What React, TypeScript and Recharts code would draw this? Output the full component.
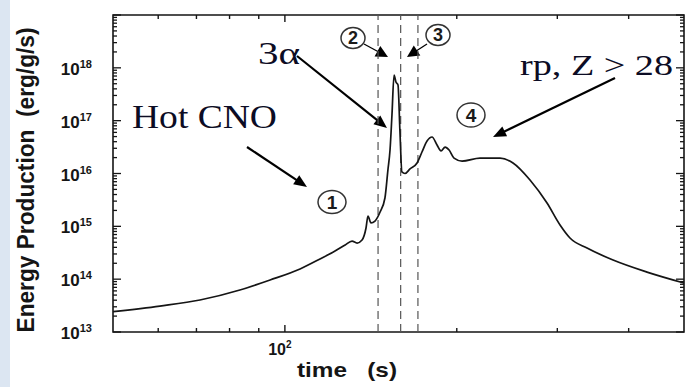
import React from 'react';
import {
  LineChart,
  Line,
  XAxis,
  YAxis,
  ReferenceLine,
  ReferenceArea,
  Customized,
} from 'recharts';

// ---- data ----
const times: number[] = [
  50, 60.4, 71, 83.4, 94.2, 106.3, 115.2, 122.4, 127.5, 131.1, 133.8, 136.5, 138.7,
  139.8, 141.5, 143.8, 146.8, 149.7, 151.5, 152.8, 154.0, 155.3, 156.5, 157.8, 159.0,
  160.3, 162.3, 165.6, 170.4, 173.8, 177.4, 181.0, 184.7, 187.7, 190.8, 193.9, 197.8,
  204.3, 219.6, 238.1, 250.9, 268.7, 287.8, 303.3, 315.7, 338.2, 375.6, 430.7, 500,
];
const energy: number[] = [
  2.42e13, 3.1e13, 4.03e13, 6.24e13, 9.64e13, 1.56e14, 2.41e14, 3.41e14, 4.43e14,
  5.27e14, 4.83e14, 5.51e14, 9.29e14, 1.57e15, 1.16e15, 1.26e15, 1.87e15, 3.44e15,
  1.16e16, 2.78e16, 1.28e17, 7.31e17, 5.39e17, 4.73e17, 6.65e16, 1.07e16, 1.0e16,
  1.22e16, 1.58e16, 2.55e16, 4.12e16, 4.91e16, 3.46e16, 2.67e16, 3.17e16, 2.78e16,
  1.96e16, 1.72e16, 1.96e16, 1.96e16, 1.58e16, 7.53e15, 2.76e15, 1.06e15, 6.01e14,
  3.89e14, 2.3e14, 1.36e14, 8.45e13,
];
const phaseBoundaries: number[] = [145.6, 159.5, 171];
const xTicks: number[] = [60, 70, 80, 90, 100, 200, 300, 400];
const xLabelTicks: number[] = [100];
const yDecades: number[] = [13, 14, 15, 16, 17, 18];
const yLabelExps: number[] = [13, 14, 15, 16, 17, 18];

const yTicks: number[] = [];
yDecades.forEach((e) => {
  for (let k = 1; k <= 9; k++) yTicks.push(k * Math.pow(10, e));
});
yTicks.push(1e19);

const data = times.map((t, i) => ({ t, e: energy[i] }));

// ---- layout ----
const W = 685;
const H = 387;
const PLOT = { left: 113, right: 684, top: 15, bottom: 332 };
const INK = '#151515';
const SANS = '"Liberation Sans", Arial, Helvetica, sans-serif';
const SERIF = '"Liberation Serif", "Times New Roman", serif';
const TXT = '#0c0c24';

const isPow10 = (v: number) => {
  const l = Math.log10(v);
  return Math.abs(l - Math.round(l)) < 1e-9;
};

const XTick = (props: any) => {
  const { x, payload } = props;
  const v = payload.value as number;
  const major = isPow10(v);
  const len = major ? 7 : 4;
  const showLabel = xLabelTicks.includes(v);
  const exp = Math.round(Math.log10(v));
  return (
    <g>
      <line x1={x} x2={x} y1={PLOT.bottom} y2={PLOT.bottom - len} stroke={INK} strokeWidth={1.4} />
      <line x1={x} x2={x} y1={PLOT.top} y2={PLOT.top + len} stroke={INK} strokeWidth={1.4} />
      {showLabel && (
        <text x={x - 5} y={355} textAnchor="middle" fontFamily={SANS} fontWeight="bold" fontSize={16} fill={INK}>
          10
          <tspan fontSize={10} dy={-7}>
            {exp}
          </tspan>
        </text>
      )}
    </g>
  );
};

const YTick = (props: any) => {
  const { y, payload } = props;
  const v = payload.value as number;
  const major = isPow10(v);
  const len = major ? 8 : 4;
  const exp = Math.round(Math.log10(v));
  const showLabel = major && yLabelExps.includes(exp);
  return (
    <g>
      <line x1={PLOT.left} x2={PLOT.left + len} y1={y} y2={y} stroke={INK} strokeWidth={1.3} />
      <line x1={PLOT.right} x2={PLOT.right - len} y1={y} y2={y} stroke={INK} strokeWidth={1.3} />
      {showLabel && (
        <text x={PLOT.left - 21} y={y + 7} textAnchor="end" fontFamily={SANS} fontWeight="bold" fontSize={17} fill={INK}>
          10
          <tspan fontSize={11} dy={-7}>
            {exp}
          </tspan>
        </text>
      )}
    </g>
  );
};

const Arrow = ({ x1, y1, x2, y2, head = 13, w = 5.5, sw = 2.2 }: any) => {
  const dx = x2 - x1;
  const dy = y2 - y1;
  const L = Math.hypot(dx, dy);
  const ux = dx / L;
  const uy = dy / L;
  const bx = x2 - ux * head;
  const by = y2 - uy * head;
  const px = -uy;
  const py = ux;
  return (
    <g>
      <line x1={x1} y1={y1} x2={bx + ux * 2} y2={by + uy * 2} stroke="#000" strokeWidth={sw} />
      <polygon
        points={`${x2},${y2} ${bx + px * w},${by + py * w} ${bx - px * w},${by - py * w}`}
        fill="#000"
      />
    </g>
  );
};

const Circled = ({ cx, cy, rx, ry, n, fs = 18 }: any) => (
  <g>
    <ellipse cx={cx} cy={cy} rx={rx} ry={ry} fill="none" stroke="#333" strokeWidth={1.5} />
    <text x={cx} y={cy + fs * 0.36} textAnchor="middle" fontFamily={SANS} fontWeight="bold" fontSize={fs} fill="#1a1a1a">
      {n}
    </text>
  </g>
);

const Annotations = () => (
  <g>
    <text
      transform={`translate(34,180) scale(1.25,1) rotate(-90)`}
      textAnchor="middle"
      fontFamily={SANS}
      fontWeight="bold"
      fontSize={19}
      fill={INK}
      textLength={305}
      lengthAdjust="spacingAndGlyphs"
      style={{ whiteSpace: 'pre' }}
    >
      {'Energy Production  (erg/g/s)'}
    </text>
    <text
      x={297}
      y={377}
      fontFamily={SANS}
      fontWeight="bold"
      fontSize={21}
      fill={INK}
      textLength={100}
      lengthAdjust="spacingAndGlyphs"
      style={{ whiteSpace: 'pre' }}
    >
      {'time   (s)'}
    </text>

    <text x={132} y={128} fontFamily={SERIF} fontSize={34} fill={TXT} textLength={145} lengthAdjust="spacingAndGlyphs">
      Hot CNO
    </text>
    <Arrow x1={247} y1={147} x2={307} y2={187} />
    <Circled cx={332} cy={202} rx={14} ry={11.5} n="1" fs={19} />

    <text x={258} y={64} fontFamily={SERIF} fontSize={32} fill={TXT} textLength={42} lengthAdjust="spacingAndGlyphs">
      3α
    </text>
    <Arrow x1={297} y1={56} x2={387} y2={128} />

    <Circled cx={353} cy={38} rx={12} ry={10.5} n="2" fs={18} />
    <Arrow x1={364} y1={44} x2={388} y2={57} head={12} w={6} sw={1.3} />
    <Circled cx={438} cy={35} rx={12} ry={10.5} n="3" fs={18} />
    <Arrow x1={427} y1={44} x2={407} y2={57} head={12} w={6} sw={1.3} />

    <Circled cx={471} cy={115} rx={14} ry={12} n="4" fs={19} />
    <text x={520} y={75} fontFamily={SERIF} fontSize={30} fill={TXT} textLength={153} lengthAdjust="spacingAndGlyphs">
      rp, Z &gt; 28
    </text>
    <Arrow x1={615} y1={78} x2={493} y2={137} />
  </g>
);

export default function App() {
  return (
    <div style={{ position: 'absolute', left: 0, top: 0, width: W, height: H, background: '#ffffff' }}>
      <div style={{ position: 'absolute', left: 0, top: 0, width: 10, height: H, background: '#dce6f2' }} />
      <div style={{ position: 'absolute', left: 0, top: 0 }}>
        <LineChart width={W} height={H} data={data} margin={{ top: 15, right: 1, bottom: 0, left: 0 }}>
          <XAxis
            dataKey="t"
            type="number"
            scale="log"
            domain={[50, 500]}
            allowDataOverflow
            ticks={xTicks}
            interval={0}
            height={55}
            tickLine={false}
            axisLine={false}
            tickSize={0}
            tickMargin={0}
            tick={<XTick />}
          />
          <YAxis
            type="number"
            scale="log"
            domain={[1e13, 1e19]}
            allowDataOverflow
            ticks={yTicks}
            interval={0}
            width={113}
            tickLine={false}
            axisLine={false}
            tickSize={0}
            tickMargin={0}
            tick={<YTick />}
          />
          <ReferenceArea x1={50} x2={500} y1={1e13} y2={1e19} fill="none" stroke={INK} strokeWidth={1.6} />
          {phaseBoundaries.map((b) => (
            <ReferenceLine key={b} x={b} stroke="#555" strokeWidth={1.2} strokeDasharray="8 5" />
          ))}
          <Line
            dataKey="e"
            type="monotone"
            stroke={INK}
            strokeWidth={1.7}
            dot={false}
            isAnimationActive={false}
          />
          <Customized component={Annotations} />
        </LineChart>
      </div>
    </div>
  );
}
